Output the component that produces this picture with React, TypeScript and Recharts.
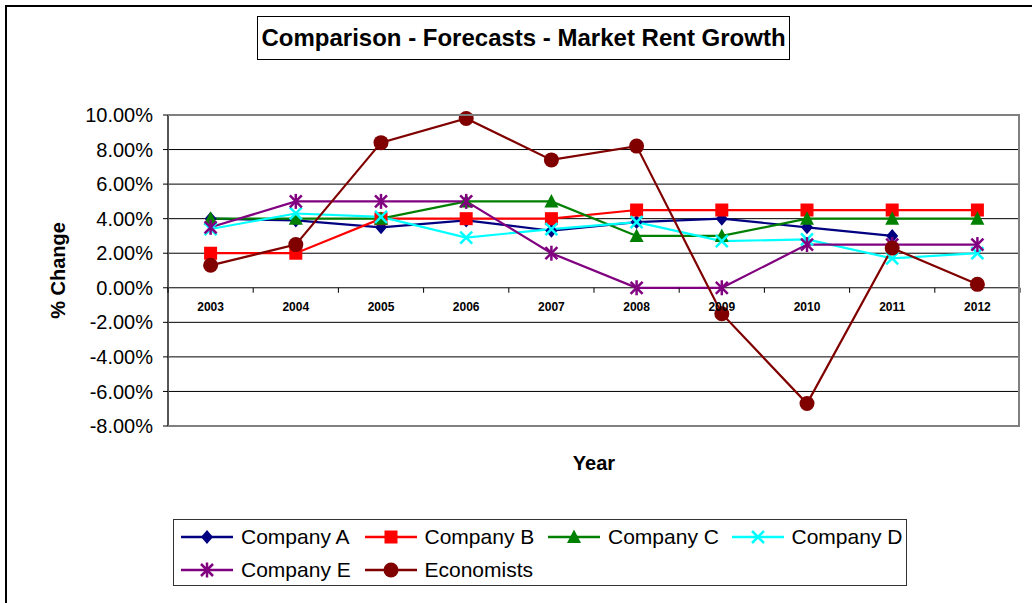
import React from 'react';
import {
  LineChart,
  Line,
  XAxis,
  YAxis,
  CartesianGrid,
  Legend,
} from 'recharts';

// values (% change)
const years = ['2003', '2004', '2005', '2006', '2007', '2008', '2009', '2010', '2011', '2012'];
const companyA = [4.0, 3.9, 3.5, 3.9, 3.3, 3.8, 4.0, 3.5, 3.0, null];
const companyB = [2.0, 2.0, 4.0, 4.0, 4.0, 4.5, 4.5, 4.5, 4.5, 4.5];
const companyC = [4.0, 4.0, 4.0, 5.0, 5.0, 3.0, 3.0, 4.0, 4.0, 4.0];
const companyD = [3.4, 4.3, 4.1, 2.9, 3.4, 3.8, 2.7, 2.8, 1.7, 2.0];
const companyE = [3.5, 5.0, 5.0, 5.0, 2.0, 0.0, 0.0, 2.5, 2.5, 2.5];
const economists = [1.3, 2.5, 8.4, 9.8, 7.4, 8.2, -1.5, -6.7, 2.3, 0.2];
const yTicks = [-8, -6, -4, -2, 0, 2, 4, 6, 8, 10];

const series = [
  { key: 'a', name: 'Company A', color: '#000080', shape: 'diamond', values: companyA },
  { key: 'b', name: 'Company B', color: '#FF0000', shape: 'square', values: companyB },
  { key: 'c', name: 'Company C', color: '#008000', shape: 'triangle', values: companyC },
  { key: 'd', name: 'Company D', color: '#00FFFF', shape: 'x', values: companyD },
  { key: 'e', name: 'Company E', color: '#800080', shape: 'star', values: companyE },
  { key: 'f', name: 'Economists', color: '#800000', shape: 'circle', values: economists },
];

const data = years.map((year, i) => {
  const row: Record<string, any> = { year };
  series.forEach((s) => (row[s.key] = s.values[i]));
  return row;
});

const FONT = '"Liberation Sans", Arial, sans-serif';
const W = 1032;
const H = 603;
const PLOT_TOP = 115;
const PLOT_LEFT = 168;
const PLOT_RIGHT = 1020;
const PLOT_BOTTOM = 426;
const Y_MIN = -8;
const Y_MAX = 10;
const HALF_BAND = (PLOT_RIGHT - PLOT_LEFT) / years.length / 2;
const ZERO_Y = PLOT_TOP + ((PLOT_BOTTOM - PLOT_TOP) * (Y_MAX - 0)) / (Y_MAX - Y_MIN);

function Marker({ shape, cx, cy, color }: any) {
  switch (shape) {
    case 'diamond':
      return <polygon points={`${cx},${cy - 7} ${cx + 6},${cy} ${cx},${cy + 7} ${cx - 6},${cy}`} fill={color} />;
    case 'square':
      return <rect x={cx - 6.5} y={cy - 6.5} width={13} height={13} fill={color} />;
    case 'triangle':
      return <polygon points={`${cx},${cy - 7.5} ${cx + 7},${cy + 6} ${cx - 7},${cy + 6}`} fill={color} />;
    case 'x':
      return (
        <g stroke={color} strokeWidth={2.5}>
          <line x1={cx - 6} y1={cy - 6} x2={cx + 6} y2={cy + 6} />
          <line x1={cx - 6} y1={cy + 6} x2={cx + 6} y2={cy - 6} />
        </g>
      );
    case 'star':
      return (
        <g stroke={color} strokeWidth={2.5}>
          <line x1={cx - 6} y1={cy - 6} x2={cx + 6} y2={cy + 6} />
          <line x1={cx - 6} y1={cy + 6} x2={cx + 6} y2={cy - 6} />
          <line x1={cx} y1={cy - 7.5} x2={cx} y2={cy + 7.5} />
        </g>
      );
    default:
      return <circle cx={cx} cy={cy} r={7.5} fill={color} />;
  }
}

// year labels sit on the 0% line, with tick marks between categories
function YearTick({ x, payload, index }: any) {
  const isLast = index === years.length - 1;
  return (
    <g>
      <line x1={x - HALF_BAND} y1={ZERO_Y} x2={x - HALF_BAND} y2={ZERO_Y + 5} stroke="#000" />
      {isLast && <line x1={x + HALF_BAND} y1={ZERO_Y} x2={x + HALF_BAND} y2={ZERO_Y + 5} stroke="#000" />}
      <text x={x} y={ZERO_Y + 19} textAnchor="middle" dominantBaseline="central" fontFamily={FONT} fontSize={12} fontWeight="bold" fill="#000">
        {payload.value}
      </text>
    </g>
  );
}

function LegendBox() {
  return (
    <div
      style={{
        width: 734,
        height: 67,
        border: '1px solid #333',
        boxSizing: 'border-box',
        display: 'grid',
        gridTemplateColumns: 'repeat(4, 183.5px)',
        gridAutoRows: '33px',
        paddingLeft: 6,
        fontFamily: FONT,
        fontSize: 21,
        color: '#000',
        background: '#fff',
      }}
    >
      {series.map((s) => (
        <div key={s.key} style={{ display: 'flex', alignItems: 'center', whiteSpace: 'nowrap' }}>
          <svg width={61} height={20} style={{ flex: 'none' }}>
            <line x1={1} y1={10} x2={53} y2={10} stroke={s.color} strokeWidth={2.5} />
            <Marker shape={s.shape} cx={27} cy={10} color={s.color} />
          </svg>
          <span>{s.name}</span>
        </div>
      ))}
    </div>
  );
}

export default function App() {
  return (
    <div style={{ position: 'absolute', left: 0, top: 0, width: W, height: H, background: '#fff', overflow: 'hidden' }}>
      <div
        style={{
          position: 'absolute',
          left: 5,
          top: 5,
          width: W,
          height: H,
          borderLeft: '2px solid #000',
          borderTop: '2px solid #000',
        }}
      />
      <div
        style={{
          position: 'absolute',
          left: 257,
          top: 16,
          width: 533,
          height: 44,
          border: '1px solid #000',
          boxSizing: 'border-box',
          display: 'flex',
          alignItems: 'center',
          justifyContent: 'center',
          fontFamily: FONT,
          fontWeight: 'bold',
          fontSize: 24,
          color: '#000',
          zIndex: 2,
          background: '#fff',
        }}
      >
        Comparison - Forecasts - Market Rent Growth
      </div>
      <LineChart
        width={W}
        height={H}
        data={data}
        margin={{ top: PLOT_TOP, right: W - PLOT_RIGHT, bottom: 0, left: 0 }}
      >
        <CartesianGrid vertical={false} stroke="#000" strokeWidth={1} />
        <XAxis
          dataKey="year"
          height={H - PLOT_BOTTOM}
          padding={{ left: HALF_BAND, right: HALF_BAND }}
          axisLine={false}
          tickLine={false}
          tickSize={0}
          tickMargin={0}
          interval={0}
          tick={<YearTick />}
          label={(props: any) => {
            const vb = props.viewBox;
            return (
              <text x={vb.x + vb.width / 2} y={vb.y + 37} textAnchor="middle" dominantBaseline="central" fontFamily={FONT} fontSize={20} fontWeight="bold" fill="#000">
                Year
              </text>
            );
          }}
        />
        <YAxis
          width={PLOT_LEFT}
          domain={[Y_MIN, Y_MAX]}
          ticks={yTicks}
          interval={0}
          tickFormatter={(v: number) => `${v.toFixed(2)}%`}
          tick={{ fontFamily: FONT, fontSize: 20, fill: '#000' }}
          tickSize={5}
          tickMargin={10}
          axisLine={{ stroke: '#555', strokeWidth: 2 }}
          tickLine={{ stroke: '#000' }}
          label={(props: any) => {
            const vb = props.viewBox;
            const cx = 58;
            const cy = vb.y + vb.height / 2;
            return (
              <text x={cx} y={cy} transform={`rotate(-90, ${cx}, ${cy})`} textAnchor="middle" dominantBaseline="central" fontFamily={FONT} fontSize={20} fontWeight="bold" fill="#000">
                % Change
              </text>
            );
          }}
        />
        {series.map((s) => (
          <Line
            key={s.key}
            type="linear"
            dataKey={s.key}
            name={s.name}
            stroke={s.color}
            strokeWidth={2.2}
            isAnimationActive={false}
            dot={(p: any) =>
              p.cy == null || p.value == null ? (
                <g key={`${s.key}-${p.index}`} />
              ) : (
                <Marker key={`${s.key}-${p.index}`} shape={s.shape} cx={p.cx} cy={p.cy} color={s.color} />
              )
            }
            activeDot={false}
          />
        ))}
        <Legend
          layout="vertical"
          align="center"
          verticalAlign="middle"
          wrapperStyle={{ left: 173, top: 519, width: 734, height: 67 }}
          content={() => <LegendBox />}
        />
      </LineChart>
      {/* grey frame of the plot area */}
      <div
        style={{
          position: 'absolute',
          left: PLOT_LEFT,
          top: PLOT_TOP - 1,
          width: PLOT_RIGHT - PLOT_LEFT,
          height: PLOT_BOTTOM - PLOT_TOP + 2,
          borderTop: '2px solid #808080',
          borderRight: '2px solid #808080',
          borderBottom: '2px solid #808080',
          boxSizing: 'border-box',
          pointerEvents: 'none',
        }}
      />
    </div>
  );
}
